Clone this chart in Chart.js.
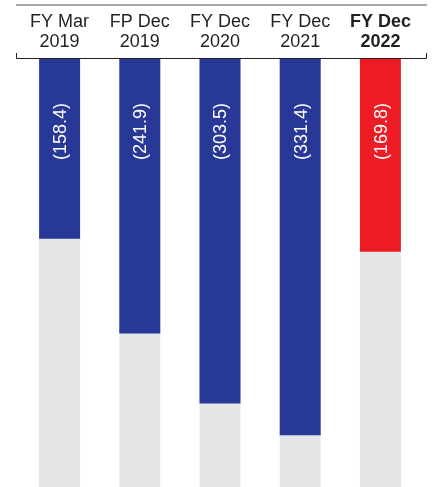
<!DOCTYPE html>
<html>
<head>
<meta charset="utf-8">
<script src="https://cdn.jsdelivr.net/npm/chart.js@4/dist/chart.umd.min.js"></script>
<style>
  html, body { margin: 0; padding: 0; background: #fff; }
  #wrap { width: 435px; height: 487px; position: relative; }
</style>
</head>
<body>
<div id="wrap"><canvas id="lossChart"></canvas></div>
<script>
// Net loss per period (negative = loss)
const periods = [
  ['FY Mar', '2019'],
  ['FP Dec', '2019'],
  ['FY Dec', '2020'],
  ['FY Dec', '2021'],
  ['FY Dec', '2022']
];
const netLoss = [-158.4, -241.9, -303.5, -331.4, -169.8];
const barColors = ['#283897', '#283897', '#283897', '#283897', '#ed1c24'];
const scaleFloor = [-377, -377, -377, -377, -377];

const TEXT = '#231f20';
const FONT = 'Arial, "Liberation Sans", sans-serif';

// top rule + bracket under the period labels, and the rotated value labels
const decorations = {
  id: 'decorations',
  afterDraw(chart) {
    const ctx = chart.ctx;
    const area = chart.chartArea;
    const x0 = 16, x1 = 427;
    ctx.save();
    ctx.strokeStyle = '#8a8a8a';
    ctx.lineWidth = 1.5;
    ctx.beginPath();
    ctx.moveTo(x0, 5);
    ctx.lineTo(x1, 5);
    ctx.stroke();

    ctx.strokeStyle = '#231f20';
    ctx.lineWidth = 1;
    ctx.beginPath();
    ctx.moveTo(x0 + 0.5, 53);
    ctx.lineTo(x0 + 0.5, 58.5);
    ctx.lineTo(x1 - 0.5, 58.5);
    ctx.lineTo(x1 - 0.5, 53);
    ctx.stroke();

    const meta = chart.getDatasetMeta(0);
    ctx.fillStyle = '#fff';
    ctx.font = '18px ' + FONT;
    ctx.textAlign = 'right';
    ctx.textBaseline = 'middle';
    meta.data.forEach((bar, i) => {
      const label = '(' + Math.abs(netLoss[i]).toFixed(1) + ')';
      ctx.save();
      ctx.translate(bar.x + 1.5, area.top + 44);
      ctx.rotate(-Math.PI / 2);
      ctx.fillText(label, 0, 0);
      ctx.restore();
    });
    ctx.restore();
  }
};

new Chart(document.getElementById('lossChart'), {
  type: 'bar',
  data: {
    labels: periods,
    datasets: [
      {
        data: netLoss,
        backgroundColor: barColors,
        order: 1
      },
      {
        data: scaleFloor,
        backgroundColor: '#e5e6e8',
        order: 2
      }
    ]
  },
  options: {
    responsive: true,
    maintainAspectRatio: false,
    animation: false,
    devicePixelRatio: 1,
    layout: { padding: { left: 19.5, right: 14.5, top: 0, bottom: 0 } },
    datasets: {
      bar: {
        grouped: false,
        barPercentage: 0.511,
        categoryPercentage: 1,
        borderWidth: 0
      }
    },
    scales: {
      x: {
        position: 'top',
        grid: { display: false, drawTicks: false },
        border: { display: false },
        afterFit(scale) { scale.height = 59; },
        ticks: {
          color: TEXT,
          padding: 7,
          maxRotation: 0,
          autoSkip: false,
          font: ctx => ({
            family: FONT,
            size: 18,
            lineHeight: 20 / 18,
            weight: ctx.index === 4 ? 'bold' : 'normal'
          })
        }
      },
      y: {
        display: false,
        min: -377,
        max: 0
      }
    },
    plugins: {
      legend: { display: false },
      tooltip: { enabled: false }
    }
  },
  plugins: [decorations]
});
</script>
</body>
</html>
